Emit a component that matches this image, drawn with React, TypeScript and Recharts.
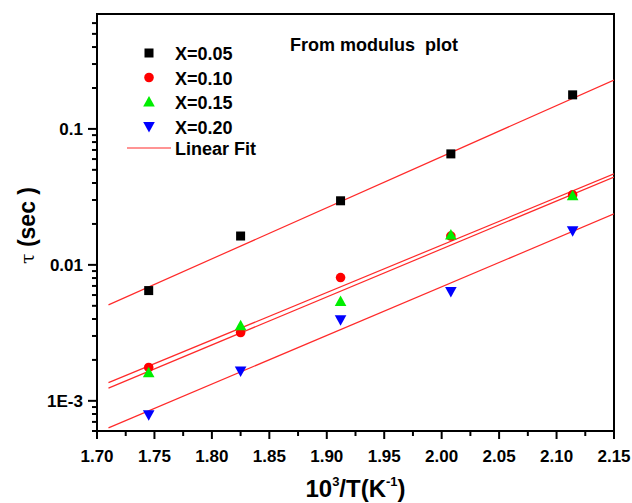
import React from 'react';
import { ScatterChart, Scatter, XAxis, YAxis, ReferenceArea, Label } from 'recharts';

// 10^3/T positions of the measured points
const invTemp = [1.745, 1.825, 1.912, 2.008, 2.114];

// relaxation time tau (sec) for each composition
const tauX05 = [0.00647, 0.0163, 0.0296, 0.0655, 0.178];
const tauX10 = [0.00176, 0.00318, 0.00807, 0.0163, 0.0327];
const tauX15 = [0.00161, 0.00356, 0.00537, 0.0166, 0.0322];
const tauX20 = [0.000789, 0.00166, 0.00394, 0.00637, 0.0178];

// linear fit end points (straight lines on the log axis)
const fitRange = [1.71, 2.15];
const fitX05 = [0.00508, 0.229];
const fitX10 = [0.00136, 0.0467];
const fitX15 = [0.00124, 0.0443];
const fitX20 = [0.000633, 0.0237];

const seriesNames = ['X=0.05', 'X=0.10', 'X=0.15', 'X=0.20'];
const fitName = 'Linear Fit';
const titleText = 'From modulus\u00a0 plot';

const xTicks = [
  1.7, 1.725, 1.75, 1.775, 1.8, 1.825, 1.85, 1.875, 1.9, 1.925,
  1.95, 1.975, 2.0, 2.025, 2.05, 2.075, 2.1, 2.125, 2.15,
];
const yTicks = [
  0.0006, 0.0007, 0.0008, 0.0009, 0.001,
  0.002, 0.003, 0.004, 0.005, 0.006, 0.007, 0.008, 0.009, 0.01,
  0.02, 0.03, 0.04, 0.05, 0.06, 0.07, 0.08, 0.09, 0.1,
  0.2, 0.3, 0.4, 0.5, 0.6,
];
const yMajorTicks = [0.001, 0.01, 0.1];
const yMajorLabels = ['1E-3', '0.01', '0.1'];

const toPoints = (xs: number[], ys: number[]) => xs.map((x, i) => ({ x, y: ys[i] }));

const FONT = '"Liberation Sans", Arial, sans-serif';
const FIT_RED = '#ff2a2a';

// marker shapes
const Square = ({ cx, cy }: any) => <rect x={cx - 4.5} y={cy - 4.5} width={9} height={9} fill="#000" />;
const Dot = ({ cx, cy }: any) => <circle cx={cx} cy={cy} r={4.8} fill="#ff0000" />;
const UpTri = ({ cx, cy }: any) => (
  <polygon points={`${cx},${cy - 6} ${cx - 5.8},${cy + 4.5} ${cx + 5.8},${cy + 4.5}`} fill="#00ee00" />
);
const DownTri = ({ cx, cy }: any) => (
  <polygon points={`${cx},${cy + 6} ${cx - 5.8},${cy - 4.5} ${cx + 5.8},${cy - 4.5}`} fill="#0000ff" />
);
const NoShape = () => <g />;

const markers = [Square, Dot, UpTri, DownTri];

const XTick = ({ x, y, payload }: any) => {
  const v = payload.value;
  const major = Math.abs(v * 20 - Math.round(v * 20)) < 1e-6;
  return (
    <g>
      <line x1={x} x2={x} y1={y} y2={y + (major ? 8 : 5)} stroke="#000" strokeWidth={2} />
      {major && (
        <text x={x} y={y + 31} textAnchor="middle" fontFamily={FONT} fontWeight="bold" fontSize={17} fill="#000">
          {v.toFixed(2)}
        </text>
      )}
    </g>
  );
};

const YTick = ({ x, y, payload }: any) => {
  const v = payload.value;
  const idx = yMajorTicks.findIndex((m) => Math.abs(m - v) < 1e-9);
  const major = idx >= 0;
  return (
    <g>
      <line x1={x} x2={x - (major ? 9 : 5)} y1={y} y2={y} stroke="#000" strokeWidth={2} />
      {major && (
        <text x={x - 14} y={y + 6} textAnchor="end" fontFamily={FONT} fontWeight="bold" fontSize={17} fill="#000">
          {yMajorLabels[idx]}
        </text>
      )}
    </g>
  );
};

const YTitle = ({ viewBox }: any) => {
  const cx = viewBox.x - 10;
  const cy = viewBox.y + viewBox.height / 2 + 3;
  return (
    <text
      x={cx}
      y={cy}
      transform={`rotate(-90, ${cx}, ${cy})`}
      textAnchor="middle"
      dominantBaseline="central"
      fontFamily={FONT}
      fontWeight="bold"
      fontSize={23}
      fill="#000"
    >
      <tspan fontFamily='"DejaVu Serif", serif' fontWeight="normal" fontSize={19}>τ</tspan>
      <tspan> (sec )</tspan>
    </text>
  );
};

const XTitle = ({ viewBox }: any) => {
  const cx = viewBox.x + viewBox.width / 2;
  const by = viewBox.y + 66;
  return (
    <text x={cx} y={by} textAnchor="middle" fontFamily={FONT} fontWeight="bold" fontSize={24} fill="#000">
      <tspan>10</tspan>
      <tspan fontSize={13} dy={-11}>3</tspan>
      <tspan dy={11}>/T(K</tspan>
      <tspan fontSize={13} dy={-11}>-1</tspan>
      <tspan dy={11}>)</tspan>
    </text>
  );
};

// legend + inset title, laid over the plot
const LegendBox = () => (
  <svg width={360} height={140} style={{ position: 'absolute', left: 120, top: 30, display: 'block' }}>
    {seriesNames.map((name, i) => {
      const Marker = markers[i];
      const rowY = 23 + i * 24.5;
      return (
        <g key={name}>
          <Marker cx={29} cy={rowY} />
          <text x={55} y={rowY + 7} fontFamily={FONT} fontWeight="bold" fontSize={18} fill="#000">
            {name}
          </text>
        </g>
      );
    })}
    <line x1={7} x2={51} y1={118} y2={118} stroke={FIT_RED} strokeWidth={1.2} />
    <text x={55} y={125} fontFamily={FONT} fontWeight="bold" fontSize={18} fill="#000">
      {fitName}
    </text>
    <text x={170} y={21} fontFamily={FONT} fontWeight="bold" fontSize={18} fill="#000">
      {titleText}
    </text>
  </svg>
);

export default function App() {
  const data = [tauX05, tauX10, tauX15, tauX20].map((ys) => toPoints(invTemp, ys));
  const fits = [fitX05, fitX10, fitX15, fitX20].map((ys) => toPoints(fitRange, ys));

  return (
    <div style={{ position: 'absolute', left: 0, top: 0, width: 632, height: 503, background: '#fff' }}>
      <ScatterChart width={632} height={503} margin={{ top: 14, right: 18, bottom: 42, left: 37 }}>
        <XAxis
          type="number"
          dataKey="x"
          domain={[1.7, 2.15]}
          ticks={xTicks}
          interval={0}
          tick={<XTick />}
          tickLine={false}
          tickSize={0}
          tickMargin={0}
          height={30}
          axisLine={{ stroke: '#000', strokeWidth: 2 }}
          allowDataOverflow
        >
          <Label content={<XTitle />} />
        </XAxis>
        <YAxis
          type="number"
          dataKey="y"
          scale="log"
          domain={[0.0006, 0.7]}
          ticks={yTicks}
          interval={0}
          tick={<YTick />}
          tickLine={false}
          tickSize={0}
          tickMargin={0}
          width={60}
          axisLine={{ stroke: '#000', strokeWidth: 2 }}
          allowDataOverflow
        >
          <Label content={<YTitle />} />
        </YAxis>
        <ReferenceArea x1={1.7} x2={2.15} y1={0.0006} y2={0.7} fill="none" stroke="#000" strokeWidth={2} />
        {fits.map((pts, i) => (
          <Scatter
            key={`fit-${i}`}
            data={pts}
            line={{ stroke: FIT_RED, strokeWidth: 1.2 }}
            shape={<NoShape />}
            legendType="none"
            isAnimationActive={false}
          />
        ))}
        {data.map((pts, i) => (
          <Scatter
            key={seriesNames[i]}
            name={seriesNames[i]}
            data={pts}
            shape={markers[i]}
            isAnimationActive={false}
          />
        ))}
      </ScatterChart>
      <LegendBox />
    </div>
  );
}
